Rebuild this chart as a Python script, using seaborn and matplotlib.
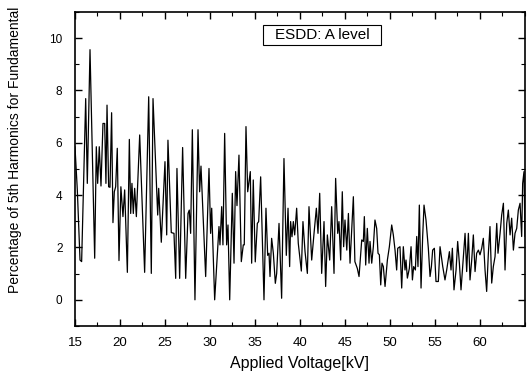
import matplotlib
matplotlib.use("Agg")
import matplotlib.pyplot as plt
import seaborn as sns
import pandas as pd
from matplotlib.ticker import MultipleLocator, FixedLocator
from matplotlib.patches import Rectangle

voltage_kv = [
    15.0, 15.26, 15.56, 15.74, 16.19, 16.37, 16.67, 17.19, 17.37, 17.52, 17.7, 17.89,
    18.11, 18.3, 18.44, 18.56, 18.74, 18.89, 19.07, 19.22, 19.37, 19.52, 19.7, 19.89,
    20.1, 20.33, 20.52, 20.82, 21.04, 21.19, 21.33, 21.48, 21.63, 21.82, 22.19, 22.74,
    23.19, 23.48, 23.67, 24.19, 24.3, 24.59, 25.0, 25.19, 25.33, 25.7, 26.0, 26.19,
    26.33, 26.63, 26.96, 27.3, 27.56, 27.7, 27.85, 28.04, 28.33, 28.67, 28.85, 29.0,
    29.52, 29.89, 30.07, 30.19, 30.52, 31.0, 31.11, 31.3, 31.44, 31.63, 31.85, 32.0,
    32.19, 32.48, 32.67, 32.85, 33.0, 33.22, 33.48, 33.7, 33.81, 34.0, 34.19, 34.48,
    34.63, 34.81, 35.03, 35.26, 35.41, 35.63, 36.0, 36.22, 36.41, 36.56, 36.67, 36.85,
    37.04, 37.26, 37.41, 37.67, 37.96, 38.22, 38.48, 38.67, 38.85, 38.96, 39.11, 39.26,
    39.41, 39.63, 39.81, 40.15, 40.33, 40.56, 40.82, 41.0, 41.3, 41.56, 41.82, 42.0,
    42.19, 42.41, 42.67, 42.85, 43.04, 43.3, 43.52, 43.78, 43.96, 44.19, 44.33, 44.52,
    44.7, 44.85, 45.0, 45.2, 45.38, 45.56, 45.93, 46.1, 46.37, 46.56, 46.86, 47.04,
    47.15, 47.3, 47.48, 47.67, 47.78, 47.97, 48.15, 48.33, 48.52, 48.67, 48.82, 48.97,
    49.11, 49.26, 49.45, 49.71, 49.93, 50.19, 50.37, 50.56, 50.74, 50.86, 51.11, 51.3,
    51.48, 51.67, 51.78, 51.93, 52.15, 52.34, 52.49, 52.63, 52.82, 52.97, 53.11, 53.26,
    53.45, 53.63, 53.78, 54.0, 54.26, 54.45, 54.6, 54.74, 54.93, 55.11, 55.37, 55.56,
    55.86, 56.11, 56.3, 56.6, 56.78, 56.93, 57.11, 57.34, 57.52, 57.71, 57.89, 58.15,
    58.34, 58.52, 58.71, 58.89, 59.08, 59.26, 59.45, 59.63, 59.82, 60.0, 60.19, 60.37,
    60.56, 60.74, 60.93, 61.11, 61.3, 61.48, 61.67, 61.86, 62.0, 62.23, 62.41, 62.6,
    62.78, 62.97, 63.15, 63.34, 63.52, 63.71, 63.89, 64.08, 64.26, 64.45, 64.63, 64.74,
    64.89, 65.0,
]

harmonic_pct = [
    5.85, 4.2, 1.52, 1.46, 7.69, 4.45, 9.56, 1.59, 5.85, 4.45, 5.85, 4.35,
    6.74, 6.74, 4.45, 7.44, 4.32, 4.3, 7.15, 2.95, 4.13, 4.32, 5.79, 1.5,
    4.32, 3.18, 4.2, 1.05, 6.13, 3.3, 4.45, 3.3, 4.26, 3.18, 6.3, 1.05,
    7.76, 1.01, 7.69, 3.24, 4.26, 2.2, 5.28, 2.48, 6.1, 2.57, 2.54, 0.82,
    5.02, 0.82, 5.82, 0.82, 3.3, 3.43, 2.54, 6.5, 0.0, 6.5, 4.13, 5.11,
    0.89, 5.02, 2.54, 3.5, 0.0, 2.8, 2.1, 3.56, 2.1, 6.36, 2.1, 2.86,
    0.0, 4.07, 1.4, 4.9, 3.6, 5.53, 1.46, 2.1, 2.1, 6.62, 4.13, 4.9,
    1.4, 4.58, 1.45, 2.92, 2.99, 4.7, 0.0, 3.5, 1.7, 1.78, 0.89, 2.35,
    1.78, 0.63, 1.01, 2.92, 0.06, 5.4, 1.7, 3.5, 1.27, 2.99, 2.41, 2.99,
    2.48, 3.5, 2.16, 1.1, 2.99, 1.84, 1.01, 3.56, 1.52, 2.54, 3.5, 2.54,
    4.07, 1.01, 2.99, 0.51, 2.48, 1.52, 3.56, 1.01, 4.64, 2.54, 2.99, 1.52,
    4.13, 2.03, 3.05, 1.9, 3.3, 1.4, 3.94, 1.46, 1.2, 0.89, 2.29, 2.23,
    3.18, 1.33, 2.73, 1.4, 2.23, 1.4, 2.03, 3.05, 2.73, 1.78, 1.72, 0.57,
    1.4, 1.27, 0.51, 1.52, 2.03, 2.86, 2.48, 1.9, 1.14, 1.97, 2.03, 0.45,
    2.03, 1.14, 1.52, 0.83, 1.2, 2.03, 0.76, 1.27, 1.14, 2.42, 1.27, 3.62,
    0.45, 2.42, 3.62, 3.05, 1.97, 0.89, 1.27, 1.9, 1.97, 0.7, 0.7, 2.03,
    1.27, 0.76, 1.14, 1.84, 1.14, 1.97, 0.38, 1.14, 2.23, 1.4, 0.38, 1.65,
    2.54, 1.08, 2.54, 0.76, 1.52, 2.48, 1.08, 1.78, 1.9, 1.72, 1.97, 2.35,
    1.14, 0.32, 1.78, 2.8, 0.64, 1.27, 1.65, 2.92, 1.78, 2.54, 3.24, 3.69,
    1.14, 2.92, 3.43, 2.48, 3.12, 1.9, 2.54, 2.73, 3.43, 3.69, 2.42, 4.45,
    4.9, 2.42,
]

x_major_ticks = [15, 20, 25, 30, 35, 40, 45, 50, 55, 60]
y_major_ticks = [0, 2, 4, 6, 8, 10]
legend_label = "ESDD: A level"

df = pd.DataFrame({"voltage": voltage_kv, "pct": harmonic_pct})

sns.set_style("ticks")
plt.rcParams["font.family"] = ["Liberation Sans", "DejaVu Sans"]
plt.rcParams["text.color"] = "black"
plt.rcParams["axes.labelcolor"] = "black"
plt.rcParams["xtick.color"] = "black"
plt.rcParams["ytick.color"] = "black"
plt.rcParams["axes.edgecolor"] = "black"

fig = plt.figure(figsize=(5.31, 3.78), dpi=100)
ax = fig.add_axes([0.1412, 0.1376, 0.8475, 0.8307])

sns.lineplot(data=df, x="voltage", y="pct", ax=ax, color="black",
             linewidth=0.9, sort=False, estimator=None)

ax.set_xlim(15, 65)
ax.set_ylim(-1, 11)
ax.xaxis.set_major_locator(FixedLocator(x_major_ticks))
ax.xaxis.set_minor_locator(MultipleLocator(2.5))
ax.yaxis.set_major_locator(FixedLocator(y_major_ticks))
ax.yaxis.set_minor_locator(MultipleLocator(1))

for s in ax.spines.values():
    s.set_visible(True)
    s.set_linewidth(1.2)
    s.set_color("black")

ax.tick_params(which="both", direction="in", top=True, right=True,
               color="black", labelcolor="black")
ax.tick_params(which="major", length=5, width=1.0)
ax.tick_params(which="minor", length=3, width=0.8)
ax.tick_params(axis="x", which="major", labelsize=9.5, pad=8)
ax.tick_params(axis="y", which="major", labelsize=8.5, pad=9)

ax.set_xlabel("Applied Voltage[kV]", fontsize=11.5, labelpad=5, color="black")
ax.set_ylabel("Percentage of 5th Harmonics for Fundamental", fontsize=10,
              color="black")
ax.yaxis.set_label_coords(-0.118, 0.56)

ax.add_patch(Rectangle((0.418, 0.895), 0.262, 0.064, transform=ax.transAxes,
                       fill=True, facecolor="white", edgecolor="black",
                       linewidth=0.8, zorder=5))
ax.text(0.549, 0.927, legend_label, transform=ax.transAxes, ha="center",
        va="center", fontsize=11, color="black", zorder=6)

fig.savefig("out.png", dpi=100)
